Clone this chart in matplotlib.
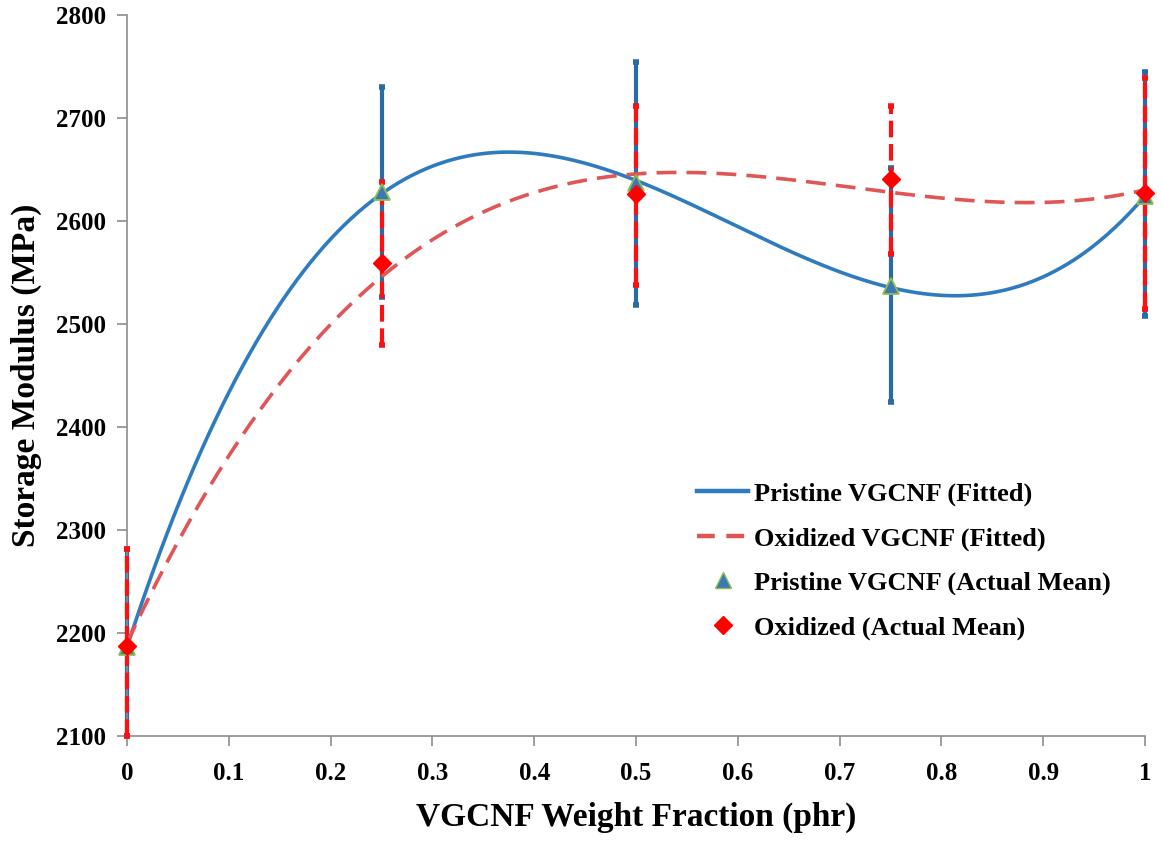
import numpy as np
import matplotlib
matplotlib.use("Agg")
import matplotlib.pyplot as plt
from matplotlib.lines import Line2D

# Data
x_frac = [0.0, 0.25, 0.5, 0.75, 1.0]
pristine_mean = [2186, 2628, 2637, 2537, 2624]
pristine_err_lo = [86, 102, 119, 113, 116]
pristine_err_hi = [96, 102, 117, 114, 121]
oxidized_mean = [2187, 2559, 2626, 2641, 2627]
oxidized_err_lo = [87, 79, 88, 73, 112]
oxidized_err_hi = [95, 79, 86, 71, 112]

x_ticks = [0, 0.1, 0.2, 0.3, 0.4, 0.5, 0.6, 0.7, 0.8, 0.9, 1]
x_tick_labels = ["0", "0.1", "0.2", "0.3", "0.4", "0.5", "0.6", "0.7", "0.8", "0.9", "1"]
y_ticks = [2100, 2200, 2300, 2400, 2500, 2600, 2700, 2800]

plt.rcParams['font.family'] = ['Liberation Serif', 'DejaVu Serif']
plt.rcParams['font.weight'] = 'bold'

fig = plt.figure(figsize=(11.62, 8.43), dpi=100)
ax = fig.add_axes([0.1093, 0.1269, 0.8761, 0.8553])

blue_line = '#2f7bbf'
red_line = '#e05555'
blue_err = '#2a6aa6'
red_err = '#ff1010'

# Error bars (blue first, red over)
ax.errorbar(x_frac, pristine_mean, yerr=[pristine_err_lo, pristine_err_hi], fmt='none',
            ecolor=blue_err, elinewidth=3, capsize=2.5, capthick=4, zorder=2, clip_on=False)
eb = ax.errorbar(x_frac, oxidized_mean, yerr=[oxidized_err_lo, oxidized_err_hi], fmt='none',
                 ecolor=red_err, elinewidth=3, capsize=2.5, capthick=4, zorder=3, clip_on=False)
for lc in eb[2]:
    lc.set_linestyle((0, (4, 1.6)))
for art in ax.collections + ax.lines:
    art.set_clip_on(False)

# Fitted polynomial trendlines (cubic, from means)
xs = np.linspace(0, 1, 300)
p_fit = np.polyval(np.polyfit(x_frac, pristine_mean, 3), xs)
o_fit = np.polyval(np.polyfit(x_frac, oxidized_mean, 3), xs)
ax.plot(xs, p_fit, color=blue_line, lw=2.6, zorder=4, solid_capstyle='butt')
ax.plot(xs, o_fit, color=red_line, lw=2.6, zorder=4, dashes=(5.5, 2.8))

# Means
ax.plot(x_frac, pristine_mean, linestyle='none', marker='^', markersize=11,
        markerfacecolor='#3a78b8', markeredgecolor='#8cc04a', markeredgewidth=1.3, zorder=5, clip_on=False)
ax.plot(x_frac, oxidized_mean, linestyle='none', marker='D', markersize=9,
        markerfacecolor='#ff0000', markeredgecolor='#ff0000', zorder=6, clip_on=False)

ax.set_xlim(0, 1)
ax.set_ylim(2100, 2800)
ax.set_xticks(x_ticks)
ax.set_xticklabels(x_tick_labels)
ax.set_yticks(y_ticks)
for s in ['top', 'right']:
    ax.spines[s].set_visible(False)
for s in ['left', 'bottom']:
    ax.spines[s].set_color('#8c8c8c')
    ax.spines[s].set_linewidth(1.2)
ax.tick_params(axis='both', direction='out', length=7, width=1.2, color='#8c8c8c',
               labelsize=18)
ax.tick_params(axis='x', pad=12)
ax.tick_params(axis='y', pad=8)
for lab in ax.get_xticklabels() + ax.get_yticklabels():
    lab.set_fontweight('bold')

ax.set_xlabel('VGCNF Weight Fraction (phr)', fontsize=24, fontweight='bold', labelpad=12)
ax.set_ylabel('Storage Modulus (MPa)', fontsize=24, fontweight='bold', labelpad=10)

handles = [
    Line2D([], [], color=blue_line, lw=3.2),
    Line2D([], [], color=red_line, lw=3.2, dashes=(4, 2.6)),
    Line2D([], [], linestyle='none', marker='^', markersize=11, markerfacecolor='#3a78b8',
           markeredgecolor='#8cc04a'),
    Line2D([], [], linestyle='none', marker='D', markersize=9, markerfacecolor='#ff0000',
           markeredgecolor='#ff0000'),
]
labels = ['Pristine VGCNF (Fitted)', 'Oxidized VGCNF (Fitted)',
          'Pristine VGCNF (Actual Mean)', 'Oxidized (Actual Mean)']
leg = fig.legend(handles, labels, loc='upper left', bbox_to_anchor=(0.5998, 0.428),
                 bbox_transform=fig.transFigure,
                 frameon=False, prop={'family': 'Liberation Serif', 'weight': 'bold', 'size': 19},
                 handlelength=1.95, handletextpad=0.2, labelspacing=0.78, borderpad=0,
                 borderaxespad=0)

fig.savefig('out.png', dpi=100)
